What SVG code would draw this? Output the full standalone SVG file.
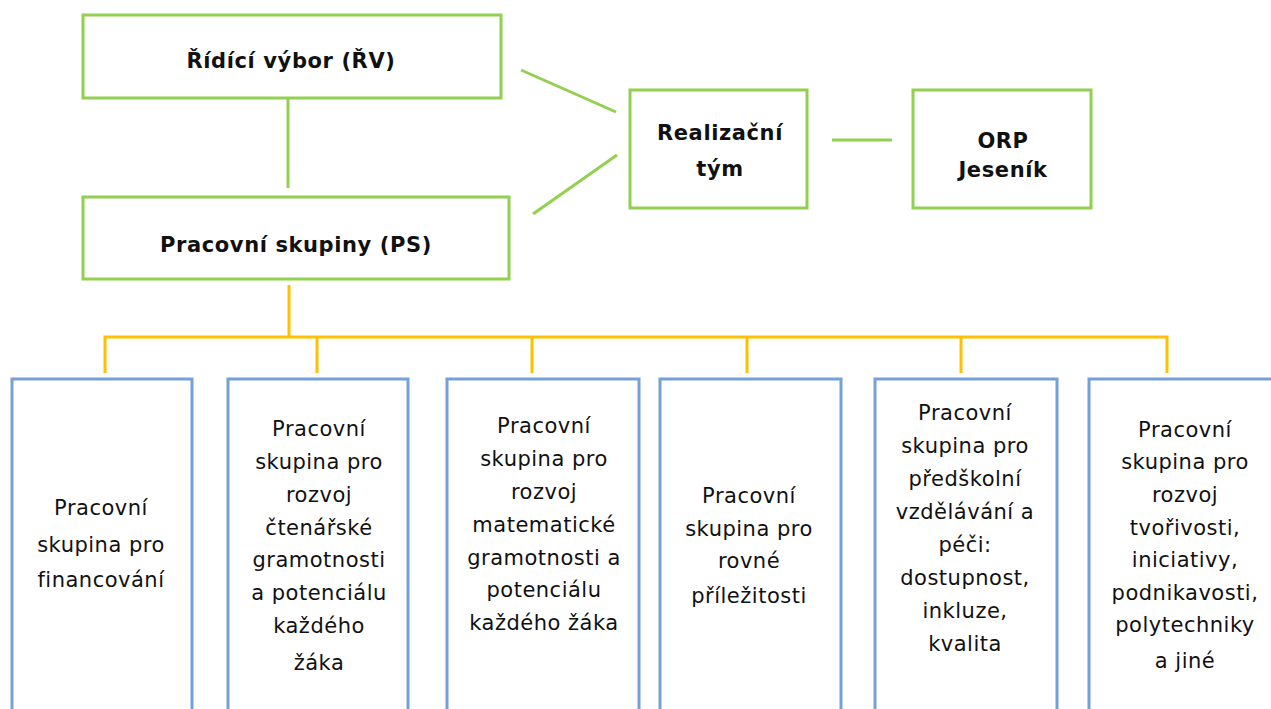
<svg xmlns="http://www.w3.org/2000/svg" width="1271" height="709" viewBox="0 0 1271 709">
<style>
.g{fill:#fff;stroke:#92d050;stroke-width:3}
.b{fill:#fff;stroke:#74a1dc;stroke-width:3}
.cg{stroke:#92d050;stroke-width:3;fill:none}
.co{stroke:#ffc000;stroke-width:3;fill:none}
.t{font-family:"DejaVu Sans",Verdana,sans-serif;font-size:21px;fill:#111;text-anchor:middle;letter-spacing:0.5px}
.h{font-family:"DejaVu Sans",Verdana,sans-serif;font-size:21px;font-weight:bold;fill:#111;text-anchor:middle;letter-spacing:0.6px}
</style>
<rect width="1271" height="709" fill="#fff"/>
<g id="connectors">
<line class="cg" x1="288" y1="99" x2="288" y2="188"/>
<line class="cg" x1="521" y1="70" x2="616" y2="112"/>
<line class="cg" x1="533" y1="214" x2="617" y2="155"/>
<line class="cg" x1="832" y1="140" x2="892" y2="140"/>
<line class="co" x1="289" y1="285" x2="289" y2="337"/>
<polyline class="co" points="105,373 105,337 1167,337 1167,373"/>
<line class="co" x1="317" y1="337" x2="317" y2="373"/>
<line class="co" x1="532" y1="337" x2="532" y2="373"/>
<line class="co" x1="747" y1="337" x2="747" y2="373"/>
<line class="co" x1="961" y1="337" x2="961" y2="373"/>
</g>
<g id="rv">
<rect class="g" x="83" y="15" width="418" height="83"/>
<text class="h" x="291" y="68">Řídící výbor (ŘV)</text>
</g>
<g id="ps">
<rect class="g" x="83" y="197" width="426" height="82"/>
<text class="h" x="296" y="252">Pracovní skupiny (PS)</text>
</g>
<g id="rt">
<rect class="g" x="630" y="90" width="177" height="118"/>
<text class="h" x="720" y="140">Realizační</text>
<text class="h" x="720" y="176">tým</text>
</g>
<g id="orp">
<rect class="g" x="913" y="90" width="178" height="118"/>
<text class="h" x="1003" y="148">ORP</text>
<text class="h" x="1003" y="177">Jeseník</text>
</g>
<g id="ps1">
<rect class="b" x="12" y="379" width="180" height="340"/>
<text class="t" x="101" y="515">Pracovní</text>
<text class="t" x="101" y="552">skupina pro</text>
<text class="t" x="101" y="587">financování</text>
</g>
<g id="ps2">
<rect class="b" x="228" y="379" width="180" height="340"/>
<text class="t" x="319" y="436">Pracovní</text>
<text class="t" x="319" y="469">skupina pro</text>
<text class="t" x="319" y="502">rozvoj</text>
<text class="t" x="319" y="535">čtenářské</text>
<text class="t" x="319" y="567">gramotnosti</text>
<text class="t" x="319" y="600">a potenciálu</text>
<text class="t" x="319" y="633">každého</text>
<text class="t" x="319" y="670">žáka</text>
</g>
<g id="ps3">
<rect class="b" x="447" y="379" width="192" height="340"/>
<text class="t" x="544" y="433">Pracovní</text>
<text class="t" x="544" y="466">skupina pro</text>
<text class="t" x="544" y="499">rozvoj</text>
<text class="t" x="544" y="532">matematické</text>
<text class="t" x="544" y="565">gramotnosti a</text>
<text class="t" x="544" y="597">potenciálu</text>
<text class="t" x="544" y="630">každého žáka</text>
</g>
<g id="ps4">
<rect class="b" x="660" y="379" width="181" height="340"/>
<text class="t" x="749" y="503">Pracovní</text>
<text class="t" x="749" y="536">skupina pro</text>
<text class="t" x="749" y="568">rovné</text>
<text class="t" x="749" y="603">příležitosti</text>
</g>
<g id="ps5">
<rect class="b" x="875" y="379" width="182" height="340"/>
<text class="t" x="965" y="420">Pracovní</text>
<text class="t" x="965" y="453">skupina pro</text>
<text class="t" x="965" y="486">předškolní</text>
<text class="t" x="965" y="519">vzdělávání a</text>
<text class="t" x="965" y="552">péči:</text>
<text class="t" x="965" y="585">dostupnost,</text>
<text class="t" x="965" y="618">inkluze,</text>
<text class="t" x="965" y="651">kvalita</text>
</g>
<g id="ps6">
<rect class="b" x="1089" y="379" width="195" height="340"/>
<text class="t" x="1185" y="437">Pracovní</text>
<text class="t" x="1185" y="469">skupina pro</text>
<text class="t" x="1185" y="502">rozvoj</text>
<text class="t" x="1185" y="535">tvořivosti,</text>
<text class="t" x="1185" y="567">iniciativy,</text>
<text class="t" x="1185" y="600">podnikavosti,</text>
<text class="t" x="1185" y="632">polytechniky</text>
<text class="t" x="1185" y="668">a jiné</text>
</g>
</svg>
